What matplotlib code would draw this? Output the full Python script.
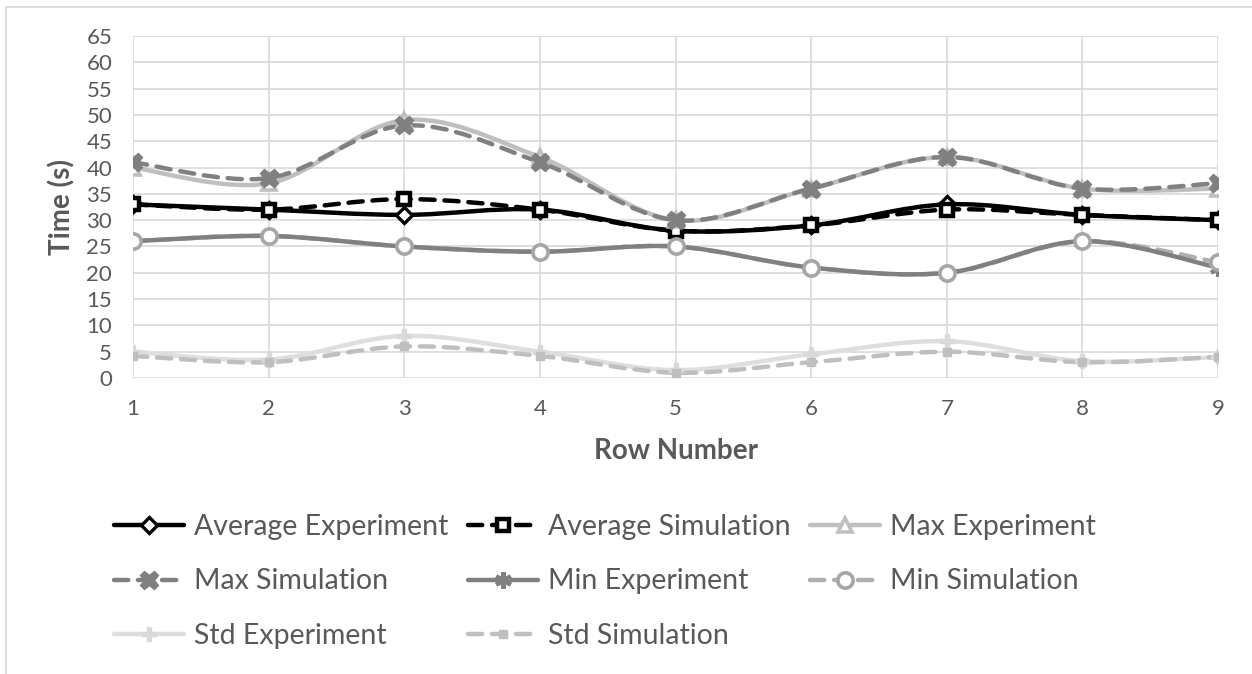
import numpy as np
import matplotlib
matplotlib.use("Agg")
import matplotlib.pyplot as plt
from matplotlib.path import Path
from matplotlib.patches import PathPatch
from matplotlib.lines import Line2D

plt.rcParams['font.family'] = ['Lato', 'DejaVu Sans']

rows = [1, 2, 3, 4, 5, 6, 7, 8, 9]

avg_exp = [33, 32, 31, 32, 28, 29, 33, 31, 30]
avg_sim = [33, 32, 34, 32, 28, 29, 32, 31, 30]
max_exp = [40, 37, 49, 42, 30, 36, 42, 36, 36]
max_sim = [41, 38, 48, 41, 30, 36, 42, 36, 37]
min_exp = [26, 27, 25, 24, 25, 21, 20, 26, 21]
min_sim = [26, 27, 25, 24, 25, 21, 20, 26, 22]
std_exp = [5, 3.5, 8, 5, 1.5, 4.5, 7, 3.2, 4]
std_sim = [4.2, 3, 6, 4.2, 1, 3, 5, 3, 4]

labels = ["Average Experiment", "Average Simulation", "Max Experiment",
          "Max Simulation", "Min Experiment", "Min Simulation",
          "Std Experiment", "Std Simulation"]

TXT = "#595959"


def smooth_path(x, y):
    # excel style smoothed line: cubic bezier, catmull-rom control points
    pts = np.column_stack([x, y]).astype(float)
    n = len(pts)
    verts = [pts[0]]
    codes = [Path.MOVETO]
    for i in range(n - 1):
        p_prev = pts[i - 1] if i > 0 else pts[i]
        p_next = pts[i + 2] if i + 2 < n else pts[i + 1]
        c1 = pts[i] + (pts[i + 1] - p_prev) / 6.0
        c2 = pts[i + 1] - (p_next - pts[i]) / 6.0
        verts += [c1, c2, pts[i + 1]]
        codes += [Path.CURVE4] * 3
    return Path(verts, codes)


fig = plt.figure(figsize=(12.52, 6.74), dpi=100)
ax = fig.add_axes([133 / 1252, 1 - 378 / 674, (1218 - 133) / 1252, (378 - 36) / 674])

# series styles: (data, color, lw, dashes, marker, msize, mface, medge, mew, line zorder)
series = [
    (avg_exp, "black", 3.2, None, "D", 8, "white", "black", 2.4, 2.6),
    (avg_sim, "black", 3.2, (3.2, 2.2), "s", 9, "white", "black", 3.2, 2.7),
    (max_exp, "#bfbfbf", 3.2, None, "^", 10, "white", "#bfbfbf", 2.6, 2.2),
    (max_sim, "#808080", 3.2, (3.2, 2.2), "X", 13, "#808080", "#808080", 1, 2.3),
    (min_exp, "#808080", 3.2, None, (6, 2, 0), 12, "#808080", "#808080", 3, 2.5),
    (min_sim, "#b0b0b0", 3.2, (3.2, 2.2), "o", 11, "white", "#a6a6a6", 2.6, 2.4),
    (std_exp, "#dedede", 3.2, None, "P", 10, "#d9d9d9", "#d9d9d9", 1, 2.0),
    (std_sim, "#bfbfbf", 3.2, (3.2, 2.2), "s", 6, "#bfbfbf", "#bfbfbf", 1, 2.1),
]

handles = []
for k, (vals, col, lw, dash, mk, ms, mf, me, mew, lz) in enumerate(series):
    patch = PathPatch(smooth_path(rows, vals), fill=False, edgecolor=col, lw=lw,
                      capstyle="round", joinstyle="round", zorder=lz)
    if dash is not None:
        patch.set_linestyle((0, dash))
    ax.add_patch(patch)
    ax.plot(rows, vals, linestyle="none", marker=mk, markersize=ms,
            markerfacecolor=mf, markeredgecolor=me, markeredgewidth=mew,
            zorder=3 + k * 0.1)
    h = Line2D([], [], color=col, lw=lw, marker=mk, markersize=ms,
               markerfacecolor=mf, markeredgecolor=me, markeredgewidth=mew,
               dash_capstyle="round", solid_capstyle="round")
    if dash is not None:
        h.set_linestyle((0, dash))
    handles.append(h)

ax.set_xlim(1, 9)
ax.set_ylim(0, 65)
ax.set_xticks(rows)
ax.set_yticks(np.arange(0, 66, 5))
ax.grid(True, color="#d9d9d9", lw=1.2)
ax.set_axisbelow(True)
for s in ax.spines.values():
    s.set_visible(False)
ax.tick_params(length=0, labelsize=16, labelcolor=TXT)
ax.tick_params(axis="y", pad=15)
ax.tick_params(axis="x", pad=15)
ax.set_xlabel("Row Number", fontsize=20, fontweight="bold", color=TXT, labelpad=14)
ax.set_ylabel("Time (s)", fontsize=20, fontweight="bold", color=TXT, labelpad=8)

# legend in excel row order -> matplotlib column order
order = [0, 3, 6, 1, 4, 7, 2, 5]
fig.legend([handles[i] for i in order], [labels[i] for i in order],
           ncol=3, loc="upper left", bbox_to_anchor=(114 / 1252, 1 - 514 / 674),
           frameon=False, fontsize=20.5, labelcolor=TXT, handlelength=2.45,
           handletextpad=0.35, columnspacing=0.7, labelspacing=1.0,
           borderpad=0, borderaxespad=0)

# chart frame
fig.add_artist(Line2D([6 / 1252, 1], [1 - 7 / 674, 1 - 7 / 674], color="#d9d9d9", lw=1.2))
fig.add_artist(Line2D([6 / 1252, 6 / 1252], [0, 1 - 7 / 674], color="#d9d9d9", lw=1.2))

fig.savefig("out.png", dpi=100)
